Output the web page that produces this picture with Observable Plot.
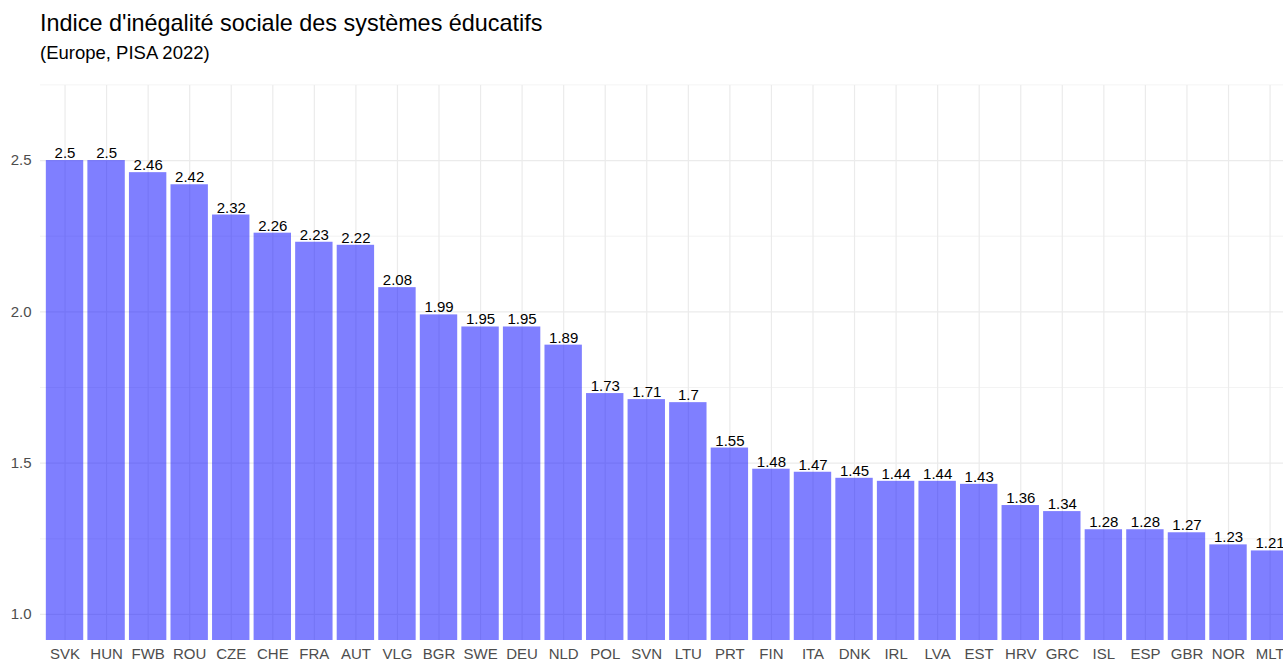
<!DOCTYPE html>
<html>
<head>
<meta charset="utf-8">
<script src="https://cdn.jsdelivr.net/npm/d3@7"></script>
<script src="https://cdn.jsdelivr.net/npm/@observablehq/plot@0.6"></script>
<style>
  html, body { margin: 0; padding: 0; background: #fff; overflow: hidden; width: 1283px; height: 662px; }
  #header { position: relative; height: 70px; font-family: "Liberation Sans", Arial, Helvetica, sans-serif; }
  #title { position: absolute; left: 40px; top: 12px; font-size: 23.4px; line-height: 1; color: #000; white-space: nowrap; }
  #subtitle { position: absolute; left: 40px; top: 44px; font-size: 18.5px; line-height: 1; color: #000; white-space: nowrap; }
  #chart { width: 1295px; }
  #chart svg { display: block; max-width: none !important; width: 1295px; height: 592px; }
</style>
</head>
<body>
<div id="header">
  <div id="title">Indice d'inégalité sociale des systèmes éducatifs</div>
  <div id="subtitle">(Europe, PISA 2022)</div>
</div>
<div id="chart"></div>
<script>
const countries = ["SVK","HUN","FWB","ROU","CZE","CHE","FRA","AUT","VLG","BGR","SWE","DEU","NLD","POL","SVN","LTU","PRT","FIN","ITA","DNK","IRL","LVA","EST","HRV","GRC","ISL","ESP","GBR","NOR","MLT"];
const values = [2.5,2.5,2.46,2.42,2.32,2.26,2.23,2.22,2.08,1.99,1.95,1.95,1.89,1.73,1.71,1.7,1.55,1.48,1.47,1.45,1.44,1.44,1.43,1.36,1.34,1.28,1.28,1.27,1.23,1.21];
const majorTicks = [1, 1.5, 2, 2.5];
const minorTicks = [1.25, 1.75, 2.25, 2.75];

const data = countries.map((c, i) => ({country: c, value: values[i]}));

const chart = Plot.plot({
  width: 1295,
  height: 592,
  marginTop: 15,
  marginBottom: 22,
  marginLeft: 40,
  marginRight: 0,
  style: {fontFamily: "'Liberation Sans', Arial, Helvetica, sans-serif", fontSize: "15px", background: "#fff"},
  x: {type: "band", domain: countries, range: [39.6, 1294.5], round: false, paddingInner: 0.1, paddingOuter: 0.15, align: 0.5, label: null},
  y: {domain: [0.914, 2.748], label: null},
  marks: [
    Plot.ruleY(minorTicks, {stroke: "#ebebeb", strokeWidth: 0.6}),
    Plot.ruleY(majorTicks, {stroke: "#ebebeb", strokeWidth: 1.2}),
    Plot.gridX({stroke: "#ebebeb", strokeOpacity: 1, strokeWidth: 1.2}),
    Plot.barY(data, {x: "country", y: "value", fill: "blue", fillOpacity: 0.5, clip: true}),
    Plot.text(data, {x: "country", y: "value", text: d => String(d.value), lineAnchor: "bottom", dy: -2.5, fill: "#000", fontSize: 15}),
    Plot.axisY(majorTicks, {tickSize: 0, tickPadding: 9, tickFormat: d3.format(".1f"), fill: "#4d4d4d", fontSize: 15, label: null}),
    Plot.axisX({tickSize: 0, tickPadding: 8, fill: "#4d4d4d", fontSize: 15, label: null})
  ]
});
document.getElementById("chart").appendChild(chart);
</script>
</body>
</html>
